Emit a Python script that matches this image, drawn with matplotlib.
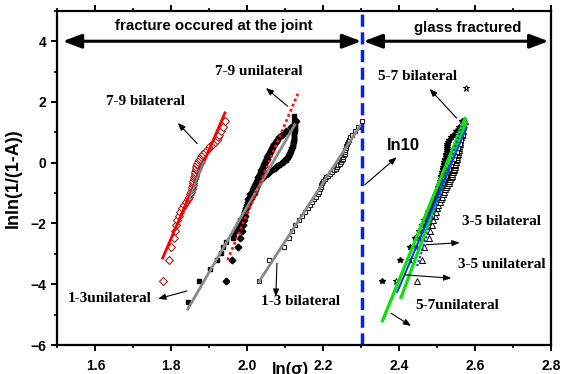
import matplotlib
matplotlib.use("Agg")
import matplotlib.pyplot as plt
from matplotlib.ticker import MultipleLocator, FormatStrFormatter

SANS = "Liberation Sans"
SERIF = "Liberation Serif"

# median-rank ordinates lnln(1/(1-A))
rank49 = [-3.902, -3.199, -2.783, -2.484, -2.250, -2.057, -1.892, -1.747, -1.617, -1.500,
          -1.392, -1.293, -1.200, -1.113, -1.031, -0.953, -0.878, -0.807, -0.738, -0.672,
          -0.608, -0.545, -0.484, -0.425, -0.367, -0.309, -0.253, -0.197, -0.142, -0.087,
          -0.033, 0.021, 0.076, 0.131, 0.186, 0.241, 0.298, 0.356, 0.415, 0.476,
          0.539, 0.606, 0.676, 0.752, 0.834, 0.927, 1.034, 1.169, 1.364]

rank24 = [-3.199, -2.484, -2.057, -1.747, -1.500, -1.293, -1.113, -0.953, -0.807, -0.672,
          -0.545, -0.425, -0.309, -0.197, -0.087, 0.021, 0.131, 0.241, 0.356, 0.476,
          0.606, 0.752, 0.927, 1.169]

rank99 = [-4.600, -3.902, -3.491, -3.199, -2.970, -2.783, -2.623, -2.484, -2.361, -2.250,
          -2.150, -2.057, -1.971, -1.892, -1.817, -1.747, -1.680, -1.617, -1.557, -1.500,
          -1.445, -1.392, -1.342, -1.293, -1.246, -1.200, -1.156, -1.113, -1.071, -1.031,
          -0.991, -0.953, -0.915, -0.878, -0.842, -0.807, -0.772, -0.738, -0.705, -0.672,
          -0.639, -0.608, -0.576, -0.545, -0.514, -0.484, -0.454, -0.425, -0.396, -0.367,
          -0.338, -0.309, -0.281, -0.253, -0.225, -0.197, -0.170, -0.142, -0.115, -0.087,
          -0.060, -0.033, -0.006, 0.021, 0.049, 0.076, 0.103, 0.131, 0.158, 0.186,
          0.213, 0.241, 0.270, 0.298, 0.327, 0.356, 0.385, 0.415, 0.445, 0.476,
          0.507, 0.539, 0.572, 0.606, 0.640, 0.676, 0.713, 0.752, 0.792, 0.834,
          0.879, 0.927, 0.978, 1.034, 1.097, 1.169, 1.255, 1.364, 1.527]

# ln(sigma) of each specimen
x_79_bi = [1.777, 1.794, 1.800, 1.806, 1.810, 1.813, 1.816, 1.819, 1.823, 1.828,
           1.832, 1.838, 1.843, 1.847, 1.850, 1.852, 1.854, 1.855, 1.856, 1.857,
           1.858, 1.859, 1.860, 1.861, 1.862, 1.863, 1.864, 1.865, 1.866, 1.867,
           1.868, 1.870, 1.872, 1.875, 1.878, 1.881, 1.884, 1.888, 1.893, 1.898,
           1.903, 1.910, 1.915, 1.919, 1.922, 1.925, 1.930, 1.935, 1.940]

x_79_uni = [1.945, 1.960, 1.975, 1.980, 1.985, 1.988, 1.990, 1.993, 1.995, 1.997,
            1.999, 2.001, 2.003, 2.006, 2.008, 2.011, 2.014, 2.017, 2.020, 2.023,
            2.025, 2.027, 2.029, 2.031, 2.033, 2.035, 2.037, 2.039, 2.041, 2.043,
            2.045, 2.047, 2.049, 2.051, 2.053, 2.055, 2.057, 2.059, 2.062, 2.065,
            2.068, 2.071, 2.075, 2.079, 2.084, 2.092, 2.102, 2.115, 2.128]

x_13_uni = [1.843, 1.874, 1.903, 1.920, 1.931, 1.935, 1.945, 1.962, 1.966, 1.970,
            1.973, 1.976, 1.979, 1.982, 1.985, 1.988, 1.990, 1.992, 1.994, 1.996,
            1.998, 2.000, 2.002, 2.004, 2.006, 2.008, 2.010, 2.012, 2.014, 2.016,
            2.018, 2.020, 2.021, 2.022, 2.023, 2.024, 2.025, 2.026, 2.027, 2.028,
            2.030, 2.032, 2.034, 2.036, 2.038, 2.040, 2.042, 2.045, 2.048, 2.051,
            2.054, 2.057, 2.060, 2.063, 2.066, 2.069, 2.072, 2.075, 2.078, 2.081,
            2.084, 2.087, 2.090, 2.093, 2.096, 2.099, 2.101, 2.103, 2.105, 2.107,
            2.108, 2.109, 2.110, 2.111, 2.112, 2.113, 2.114, 2.115, 2.116, 2.117,
            2.118, 2.119, 2.120, 2.120, 2.121, 2.121, 2.122, 2.122, 2.123, 2.123,
            2.124, 2.124, 2.124, 2.125, 2.125, 2.125, 2.125, 2.124, 2.123]

x_13_bi = [2.031, 2.057, 2.096, 2.110, 2.118, 2.125, 2.135, 2.145, 2.153, 2.160,
           2.166, 2.171, 2.176, 2.181, 2.185, 2.188, 2.191, 2.193, 2.195, 2.197,
           2.200, 2.204, 2.208, 2.213, 2.218, 2.223, 2.228, 2.233, 2.237, 2.240,
           2.243, 2.246, 2.249, 2.251, 2.253, 2.255, 2.256, 2.257, 2.258, 2.259,
           2.260, 2.262, 2.264, 2.267, 2.271, 2.276, 2.283, 2.291, 2.303]

x_57_uni = [2.355, 2.402, 2.428, 2.442, 2.452, 2.460, 2.466, 2.472, 2.477, 2.481,
            2.485, 2.488, 2.491, 2.494, 2.497, 2.499, 2.501, 2.503, 2.505, 2.507,
            2.508, 2.509, 2.510, 2.511, 2.512, 2.513, 2.514, 2.515, 2.516, 2.517,
            2.518, 2.519, 2.520, 2.521, 2.522, 2.523, 2.524, 2.525, 2.526, 2.527,
            2.525, 2.526, 2.528, 2.531, 2.536, 2.542, 2.549, 2.557, 2.566]

x_57_bi = [2.392, 2.430, 2.445, 2.455, 2.462, 2.468, 2.474, 2.479, 2.484, 2.489,
           2.493, 2.497, 2.500, 2.503, 2.506, 2.508, 2.511, 2.513, 2.515, 2.517,
           2.519, 2.521, 2.523, 2.525, 2.527, 2.529, 2.531, 2.533, 2.535, 2.537,
           2.539, 2.541, 2.543, 2.545, 2.547, 2.549, 2.550, 2.551, 2.552, 2.553,
           2.554, 2.555, 2.556, 2.557, 2.558, 2.560, 2.562, 2.564, 2.567]
outlier_57_bi = (2.577, 2.46)

x_35_bi = [2.446, 2.459, 2.465, 2.478, 2.482, 2.486, 2.490, 2.494, 2.497, 2.500,
           2.503, 2.506, 2.509, 2.512, 2.515, 2.518, 2.521, 2.524, 2.527, 2.530,
           2.532, 2.534, 2.536, 2.538, 2.540, 2.542, 2.543, 2.544, 2.546, 2.547,
           2.548, 2.549, 2.550, 2.551, 2.552, 2.553, 2.554, 2.555, 2.556, 2.557,
           2.558, 2.559, 2.560, 2.561, 2.563, 2.565, 2.567, 2.569, 2.572]

x_35_uni = [2.437, 2.460, 2.475, 2.485, 2.492, 2.498, 2.503, 2.507, 2.511, 2.515,
            2.519, 2.523, 2.527, 2.531, 2.535, 2.539, 2.543, 2.547, 2.551, 2.555,
            2.559, 2.563, 2.567, 2.571]

# fitted lines: (x0, y0, x1, y1)
fit_79_bi = (1.777, -3.14, 1.941, 1.64)
fit_79_bi_mid = (1.848, -1.16, 1.885, 0.04)
fit_79_uni = (1.948, -3.2, 2.133, 2.27)
fit_13_uni = (1.843, -4.82, 2.125, 1.25)
fit_13_bi = (2.031, -3.91, 2.296, 1.2)
fit_green = [(2.356, -5.2, 2.573, 1.45), (2.405, -4.43, 2.575, 1.30)]
fit_blue = (2.395, -4.25, 2.577, 1.15)
fit_blue_dot = (2.447, -3.40, 2.565, 1.20)

# labels: text, text position, arrow tail, arrow head
labels = [
    ("7-9 bilateral", (1.732, 2.02), (1.868, 0.63), (1.817, 1.31)),
    ("7-9 unilateral", (2.030, 2.99), (2.106, 1.86), (2.049, 2.46)),
    ("1-3unilateral", (1.637, -4.48), (1.841, -4.22), (1.765, -4.48)),
    ("1-3 bilateral", (2.139, -4.57), (2.078, -3.31), (2.075, -4.41)),
    ("5-7 bilateral", (2.447, 2.85), (2.551, 1.47), (2.480, 2.43)),
    ("3-5 bilateral", (2.670, -1.94), (2.471, -2.70), (2.559, -2.63)),
    ("3-5 unilateral", (2.670, -3.36), (2.414, -3.69), (2.537, -3.80)),
    ("5-7unilateral", (2.553, -4.71), (2.379, -4.96), (2.431, -5.37)),
]

ln10 = 2.3026

fig = plt.figure(figsize=(5.63, 3.74), dpi=100)
ax = fig.add_axes([0.102, 0.0775, 0.877, 0.8935])


def seg(p, **kw):
    ax.plot([p[0], p[2]], [p[1], p[3]], **kw)


# points
ax.plot(x_79_bi, rank49, ls="none", marker="D", ms=3.8, mfc="white", mec="#a0201e", mew=0.8)
seg(fit_79_bi, color="#ff0000", lw=2.0)
seg(fit_79_bi_mid, color="#00c8d8", lw=1.0)

ax.plot(x_13_uni, rank99, ls="none", marker="s", ms=3.2, color="black")
ax.plot(x_79_uni, rank49, ls="none", marker="D", ms=3.4, color="black")
seg(fit_13_uni, color="#8a8a8a", lw=2.0)
seg(fit_79_uni, color="#ff1010", lw=2.0, ls=(0, (1, 1)))

ax.plot(x_13_bi, rank49, ls="none", marker="s", ms=3.5, mfc="white", mec="#222222", mew=0.8)
seg(fit_13_bi, color="#8a8a8a", lw=2.0)

ax.plot(x_57_uni, rank49, ls="none", marker="*", ms=4.2, color="black")
ax.plot(x_57_bi + [outlier_57_bi[0]], rank49 + [outlier_57_bi[1]], ls="none", marker="*",
        ms=4.5, mfc="white", mec="black", mew=0.7)
ax.plot(x_35_bi, rank49, ls="none", marker="^", ms=4, mfc="white", mec="black", mew=0.7)
ax.plot(x_35_uni, rank24, ls="none", marker="s", ms=3.2, mfc="white", mec="black", mew=0.7)
for g in fit_green:
    seg(g, color="#10e010", lw=2.4)
seg(fit_blue, color="#1030ff", lw=1.4)
seg(fit_blue_dot, color="#1030ff", lw=1.5, ls=(0, (1, 1)))

# ln10 boundary
ax.axvline(ln10, color="#0022ff", lw=2.5, ls=(0, (3.5, 1.6)), zorder=1)

# region arrows
big = dict(arrowstyle="<|-|>,head_length=0.45,head_width=0.17", color="black", lw=2.2,
           mutation_scale=25, shrinkA=0, shrinkB=0)
ax.annotate("", xy=(1.514, 4.0), xytext=(2.300, 4.0), arrowprops=big)
ax.annotate("", xy=(2.306, 4.0), xytext=(2.793, 4.0), arrowprops=big)
ax.text(1.912, 4.49, "fracture occured at the joint", ha="center", va="center",
        family=SANS, weight="bold", fontsize=10.8)
ax.text(2.58, 4.45, "glass fractured", ha="center", va="center",
        family=SANS, weight="bold", fontsize=10.8)

small = dict(arrowstyle="-|>,head_length=0.5,head_width=0.2", color="black", lw=0.8,
             mutation_scale=9, shrinkA=0, shrinkB=0)
for txt, pos, tail, head in labels:
    ax.text(pos[0], pos[1], txt, ha="center", va="center", family=SERIF,
            weight="bold", fontsize=11)
    ax.annotate("", xy=head, xytext=tail, arrowprops=small)

ax.text(2.411, 0.57, "ln10", ha="center", va="center", family=SANS, weight="bold", fontsize=12)
ax.annotate("", xy=(2.393, 0.18), xytext=(2.310, -0.72), arrowprops=small)

# axes styling
ax.set_xlim(1.5, 2.8)
ax.set_ylim(-6, 5)
ax.xaxis.set_major_locator(MultipleLocator(0.2))
ax.xaxis.set_minor_locator(MultipleLocator(0.1))
ax.yaxis.set_major_locator(MultipleLocator(2))
ax.yaxis.set_minor_locator(MultipleLocator(1))
ax.xaxis.set_major_formatter(FormatStrFormatter("%.1f"))
for s in ax.spines.values():
    s.set_linewidth(1.6)
ax.tick_params(which="major", direction="out", length=4, width=1.4, pad=4, labelsize=10)
ax.tick_params(which="minor", direction="out", length=2.5, width=1.2)
ax.tick_params(axis="x", which="both", top=True)
ax.tick_params(axis="x", which="major", pad=6)
for lab in ax.get_xticklabels() + ax.get_yticklabels():
    lab.set_family(SANS)
    lab.set_weight("bold")

ax.set_ylabel("lnln(1/(1-A))", family=SANS, weight="bold", fontsize=13)
ax.yaxis.set_label_coords(-0.072, 0.5)
ax.set_xlabel("ln(\u03c3)", family=SANS, weight="bold", fontsize=12)
ax.xaxis.set_label_coords(0.473, -0.052)

fig.savefig("out.png", dpi=100)
